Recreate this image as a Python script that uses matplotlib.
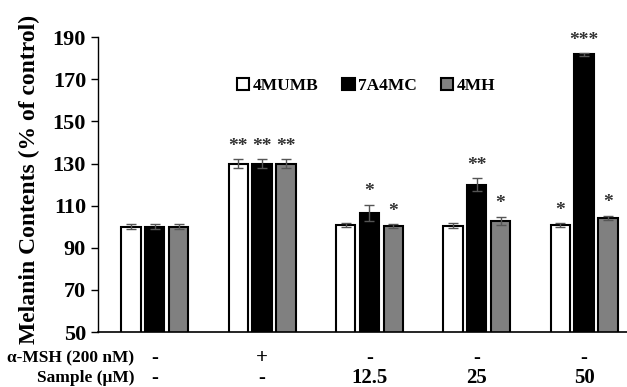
import numpy as np
import matplotlib.pyplot as plt

plt.rcParams['font.family'] = ['Liberation Serif', 'DejaVu Serif']
plt.rcParams['font.weight'] = 'bold'

# data
series = ['4MUMB', '7A4MC', '4MH']
colors = ['white', 'black', '#808080']
values = [
    [100.0, 130.0, 100.9, 100.4, 100.9],   # 4MUMB
    [100.0, 130.0, 106.5, 119.9, 181.8],   # 7A4MC
    [100.0, 130.0, 100.4, 102.8, 104.3],   # 4MH
]
errors = [
    [1.2, 2.0, 1.0, 1.2, 1.0],
    [1.2, 2.0, 4.0, 3.0, 0.8],
    [1.2, 2.0, 1.0, 2.0, 1.0],
]
stars = [
    ['', '**', '', '', '*'],
    ['', '**', '*', '**', '***'],
    ['', '**', '*', '*', '*'],
]
msh_labels = ['-', '+', '-', '-', '-']
sample_labels = ['-', '-', '12.5', '25', '50']

fig = plt.figure(figsize=(6.27, 3.87), dpi=100)
ax = fig.add_axes([0.156, 0.142, 0.844, 0.762])

x = np.arange(len(msh_labels))
width = 0.18
step = 0.222

for i in range(len(series)):
    pos = x + (i - 1) * step
    ax.bar(pos, values[i], width=width, color=colors[i], edgecolor='black',
           linewidth=1.5, label=series[i], zorder=2)
    ax.errorbar(pos, values[i], yerr=errors[i], fmt='none', ecolor='#555555',
                elinewidth=1.0, capsize=3.5, capthick=1.0, zorder=3)
    for j in range(len(pos)):
        if stars[i][j]:
            ax.annotate(stars[i][j], (pos[j], values[i][j] + errors[i][j]),
                        xytext=(0, 3), textcoords='offset points',
                        ha='center', va='bottom', fontsize=14,
                        color='#333333')

ax.set_xlim(-0.53, 4.40)
ax.set_ylim(50, 190)
ax.set_yticks(np.arange(50, 191, 20))
ax.set_xticks([])
ax.tick_params(axis='y', labelsize=16, length=5, width=1.0, direction='out')
for lab in ax.get_yticklabels():
    lab.set_fontweight('bold')
ax.spines['top'].set_visible(False)
ax.spines['right'].set_visible(False)
ax.spines['left'].set_linewidth(1.0)
ax.spines['bottom'].set_linewidth(1.2)

ax.set_ylabel('Melanin Contents (% of control)', fontsize=17,
              fontweight='bold')
ax.yaxis.set_label_coords(-0.110, 0.519)

# condition rows below the axis
trans = ax.get_xaxis_transform()
ax.text(-0.19, -0.088, 'α-MSH (200 nM)', transform=trans, ha='right',
        va='center', fontsize=12.5, fontweight='bold', clip_on=False)
ax.text(-0.19, -0.155, 'Sample (μM)', transform=trans, ha='right',
        va='center', fontsize=12.5, fontweight='bold', clip_on=False)
for j in range(len(x)):
    ax.text(x[j], -0.088, msh_labels[j], transform=trans, ha='center',
            va='center', fontsize=15, fontweight='bold', clip_on=False)
    ax.text(x[j], -0.155, sample_labels[j], transform=trans, ha='center',
            va='center', fontsize=15, fontweight='bold', clip_on=False)

leg = ax.legend(loc='center', bbox_to_anchor=(0.507, 0.835), ncol=3,
                frameon=False, handlelength=0.7, handleheight=0.7,
                handletextpad=0.2, columnspacing=1.4,
                prop={'size': 12.5, 'weight': 'bold'})

fig.savefig('out.png', dpi=100)
